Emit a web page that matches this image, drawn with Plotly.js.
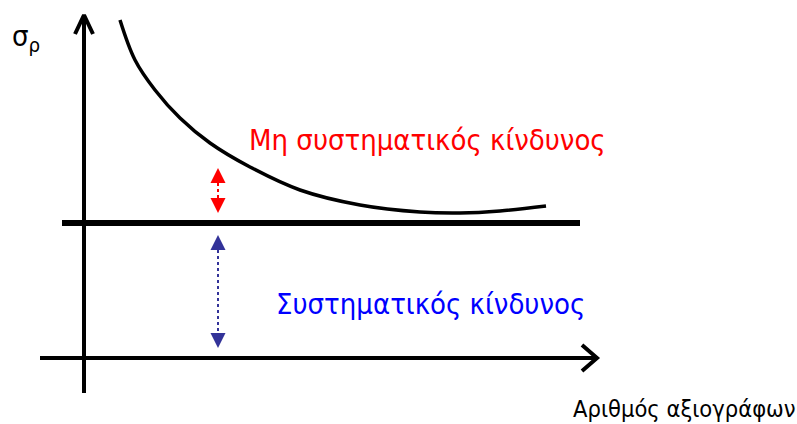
<!DOCTYPE html>
<html><head><meta charset="utf-8">
<script src="https://cdn.plot.ly/plotly-3.0.1.min.js"></script>
<style>html,body{margin:0;padding:0;background:#fff}#chart{width:797px;height:424px}</style>
</head><body><div id="chart"></div>
<script>
// Data (diagram units: origin at the axes' intersection)
const curveX = [36, 51, 71, 96, 126, 166, 216, 276, 336, 376, 416, 462];
const curveY = [338, 298, 268, 240, 215, 191, 168, 153, 146, 145, 147, 152];
const systematicLevel = 135;
const systematicX = [-22, 496];
const yAxisSpan = [-35, 343];
const xAxisSpan = [-44, 513];
const arrowX = 134;
const redArrow = [190, 145];   // top tip, bottom tip
const blueArrow = [123, 10];
const labels = {
  y: "σ<sub>ρ</sub>",
  x: "Αριθμός αξιογράφων",
  unsys: "Μη συστηματικός κίνδυνος",
  sys: "Συστηματικός κίνδυνος"
};

const FONT = "DejaVu Sans Condensed, DejaVu Sans, sans-serif";
const head = 15, arm = 19;
const traces = [];
// axes
traces.push({x:[0,0], y:yAxisSpan, mode:'lines', line:{color:'#000', width:4}});
traces.push({x:xAxisSpan, y:[0,0], mode:'lines', line:{color:'#000', width:4}});
// open V arrowheads
const tY = yAxisSpan[1], tX = xAxisSpan[1];
traces.push({x:[-9,0,9], y:[tY-arm,tY,tY-arm], mode:'lines', line:{color:'#000', width:4}});
traces.push({x:[tX-15,tX,tX-15], y:[13,0,-13], mode:'lines', line:{color:'#000', width:4}});
// systematic risk level
traces.push({x:systematicX, y:[systematicLevel,systematicLevel], mode:'lines', line:{color:'#000', width:6}});
// total risk curve
traces.push({x:curveX, y:curveY, mode:'lines', line:{color:'#000', width:3.5, shape:'spline', smoothing:1}});
// double arrows
function dbl(tips, color){
  traces.push({x:[arrowX,arrowX], y:[tips[0]-head, tips[1]+head], mode:'lines', line:{color:color, width:2, dash:'dot'}});
  traces.push({x:[arrowX], y:[tips[0]], mode:'markers', marker:{symbol:'arrow-up', size:head, color:color, line:{width:0}}});
  traces.push({x:[arrowX], y:[tips[1]], mode:'markers', marker:{symbol:'arrow-down', size:head, color:color, line:{width:0}}});
}
dbl(redArrow, '#ff0000');
dbl(blueArrow, '#333399');

const ann = (text, x, y, size, color) => ({text, x, y, xref:'x', yref:'y', xanchor:'left', yanchor:'middle',
  showarrow:false, font:{family:FONT, size, color}});

const layout = {
  width:797, height:424, margin:{l:0,r:0,t:0,b:0}, showlegend:false,
  paper_bgcolor:'#fff', plot_bgcolor:'#fff',
  xaxis:{range:[-84,713], visible:false, fixedrange:true},
  yaxis:{range:[-66,358], visible:false, fixedrange:true},
  annotations:[
    ann(labels.y, -74, 320, 29, '#000'),
    ann(labels.unsys, 163, 218, 29, '#ff0000'),
    ann(labels.sys, 190, 54, 29, '#0000ff'),
    ann(labels.x, 487, -51, 23.5, '#000')
  ]
};
Plotly.newPlot('chart', traces, layout, {staticPlot:true, displayModeBar:false});
</script></body></html>
